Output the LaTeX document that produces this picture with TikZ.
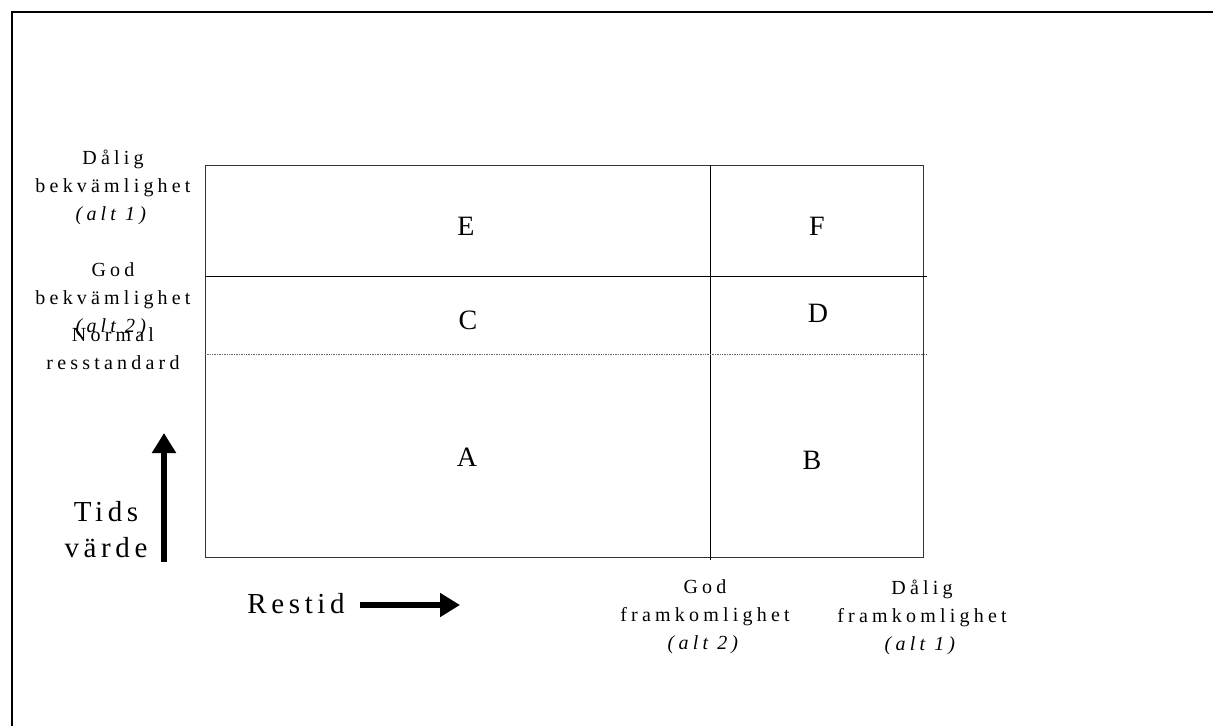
\documentclass[tikz,border=0pt]{standalone}
\usepackage{fontspec}
\setmainfont{Liberation Serif}
\newfontfamily\smallspaced[LetterSpace=21]{Liberation Serif}
\newfontfamily\bigspaced[LetterSpace=16]{Liberation Serif}
\usetikzlibrary{positioning, arrows.meta}

\begin{document}
\begin{tikzpicture}[x=1pt, y=-1pt,
   axislabel/.style = {font=\smallspaced\fontsize{20}{28}\selectfont, align=center, inner sep=0pt},
   biglabel/.style = {font=\bigspaced\fontsize{29}{36}\selectfont, align=center, inner sep=0pt},
   cell/.style = {font=\fontsize{28}{30}\selectfont, inner sep=0pt},
   grid/.style = {line width=1pt, black!80},
   fat arrow/.style = {line width=#1, -{Triangle[length=20pt, width=23pt]}}]
   \useasboundingbox (0,0) rectangle (1213,726);
   % open frame, top and left only
   \draw[line width=2.4pt] (12,726) -- (12,12) -- (1213,12);
   % the grid
   \draw[grid] (205,165) rectangle (923,557);
   \draw[grid, black] (710,165) -- (710,560);
   \draw[grid, black] (205,276) -- (927,276);
   \draw[densely dotted, line width=0.7pt, black!60] (205,354) -- (927,354);
   \foreach \name/\x/\y in {E/466/226, F/817/226, C/468/320, D/818/313, A/467/457, B/812/460}
     \node[cell] (\name) at (\x,\y) {\name};
   % labels on the left side
   \node[axislabel] (daligbekv) at (113,187) {Dålig\\bekvämlighet\\\textit{(alt 1)}};
   \node[axislabel] (godbekv) at (113,300) {God\\bekvämlighet\\\textit{(alt 2)}};
   \node[axislabel] (normal) at (113,349) {Normal\\resstandard};
   \node[biglabel] (tidsvarde) at (106,530) {Tids\\värde};
   % labels below
   \node[axislabel] (godfram) at (705,617) {God\\framkomlighet\\\textit{(alt 2)}};
   \node[axislabel] (daligfram) at (922,617) {Dålig\\framkomlighet\\\textit{(alt 1)}};
   \node[biglabel, anchor=base] (restid) at (296,613) {Restid};
   % axis arrows
   \coordinate (tidsfot) at (164,562);
   \coordinate (tidstopp) at (164,433);
   \coordinate (restidstart) at (360,605);
   \coordinate (restidslut) at (460,605);
   \draw[fat arrow=6pt] (tidsfot) -- (tidstopp);
   \draw[fat arrow=6pt] (restidstart) -- (restidslut);
\end{tikzpicture}
\end{document}
